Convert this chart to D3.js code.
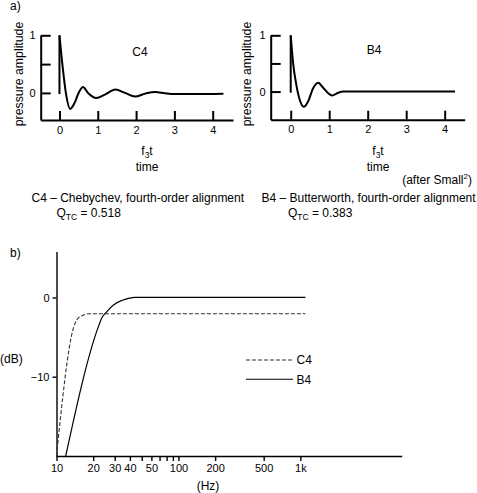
<!DOCTYPE html>
<html><head><meta charset="utf-8">
<script src="https://cdn.jsdelivr.net/npm/d3@7"></script>
<style>
body{margin:0;background:#fff}
svg text{font-family:"Liberation Sans",Arial,Helvetica,sans-serif;fill:#000}
</style>
</head><body>
<svg id="c" width="477" height="493"></svg>
<script>
// ---- data (a) transient responses ----
const timeTicks = [0, 1, 2, 3, 4];
const ampTicks = [0, 0.5, 1];
const ampTickLabels = ["0", "", "1"];
const c4Time = [0, 0.087, 0.174, 0.279, 0.395, 0.5, 0.613, 0.745, 0.963, 1.184, 1.463, 1.71, 1.974, 2.237, 2.5, 2.75, 3.0, 3.5, 4.28];
const c4Amp  = [1, 0.43, -0.03, -0.277, -0.173, 0, 0.104, 0, -0.087, -0.03, 0.058, 0, -0.064, -0.012, 0.017, -0.005, -0.02, -0.02, -0.015];
const b4Time = [0, 0.06, 0.147, 0.234, 0.339, 0.452, 0.582, 0.713, 0.843, 0.974, 1.078, 1.235, 1.37, 2, 3, 4.27];
const b4Amp  = [1, 0.52, 0.115, -0.145, -0.272, -0.174, 0.058, 0.156, 0.069, -0.03, -0.07, -0.02, 0, 0, 0, 0];
const stepLine = [[0, -0.02], [0, 1]];

// ---- data (b) frequency responses ----
const freqTicks = [10, 20, 30, 40, 50, 60, 70, 80, 90, 100, 200, 500, 1000];
const freqTickLabels = ["10", "20", "30", "40", "", "50", "", "", "", "100", "200", "500", "1k"];
const dbTicks = [0, -10];
const dbTickLabels = ["0", "\u221210"];
const c4Freq = [10, 13.8, 14.7, 16.2, 18.9, 100, 1100];
const c4Db   = [-20, -3.8, -2.8, -2.3, -2.05, -2.05, -2.05];
const b4Freq = [11.9, 22.1, 23.5, 25.9, 29.3, 34.3, 39, 44, 100, 1100];
const b4Db   = [-20, -3.65, -2.6, -1.78, -0.94, -0.38, -0.12, 0, 0, 0];

const svg = d3.select("#c");

// labels
svg.append("text").attr("x", 10).attr("y", 10).attr("font-size", 12).text("a)");
svg.append("text").attr("x", 10).attr("y", 257).attr("font-size", 12).text("b)");

function transient(cfg) {
  const x = d3.scaleLinear().domain(cfg.xd).range(cfg.xr);
  const y = d3.scaleLinear().domain(cfg.yd).range(cfg.yr);
  const g = svg.append("g");
  const ax = g.append("g").attr("transform", `translate(0,${cfg.yr[0]})`)
    .call(d3.axisBottom(x).tickValues(timeTicks).tickSize(-9).tickSizeOuter(0).tickPadding(6).tickFormat(d3.format("d")));
  const ay = g.append("g").attr("transform", `translate(${cfg.xr[0]},0)`)
    .call(d3.axisLeft(y).tickValues(ampTicks).tickSize(-10).tickSizeOuter(0).tickPadding(5).tickFormat((d, i) => ampTickLabels[i]));
  [ax, ay].forEach(a => {
    a.selectAll("path,line").attr("stroke", "#000").attr("stroke-width", 2);
    a.selectAll("text").attr("font-size", 11).attr("font-family", null);
  });
  const line = d3.line().x(d => x(d[0])).y(d => y(d[1]));
  g.append("path").attr("d", line(stepLine)).attr("stroke", "#000").attr("stroke-width", 2).attr("fill", "none");
  const pts = cfg.t.map((t, i) => [t, cfg.a[i]]);
  g.append("path").attr("d", line.curve(d3.curveMonotoneX)(pts))
    .attr("stroke", "#000").attr("stroke-width", 2).attr("fill", "none");
  g.append("text").attr("x", cfg.name[0]).attr("y", cfg.name[1]).attr("font-size", 12).attr("text-anchor", "middle").text(cfg.name[2]);
  g.append("text").attr("transform", `translate(${cfg.ytitleX},74) rotate(-90)`).attr("font-size", 12.3)
    .attr("text-anchor", "middle").attr("dy", "0.35em").text("pressure amplitude");
  const ft = g.append("text").attr("x", cfg.ftx).attr("y", 155).attr("font-size", 12).attr("text-anchor", "middle");
  ft.append("tspan").text("f");
  ft.append("tspan").attr("font-size", 8.5).attr("dy", 3).text("3");
  ft.append("tspan").attr("dy", -3).text("t");
  g.append("text").attr("x", cfg.ftx).attr("y", 171).attr("font-size", 12).attr("text-anchor", "middle").text("time");
}

transient({xd: [-0.49, 4.53], xr: [40.7, 233], yd: [-0.47, 1], yr: [120, 35.3], t: c4Time, a: c4Amp,
  name: [140, 56, "C4"], ytitleX: 19, ftx: 147});
transient({xd: [-0.52, 4.52], xr: [270.7, 464.7], yd: [-0.5, 1], yr: [119.7, 35.3], t: b4Time, a: b4Amp,
  name: [374, 54, "B4"], ytitleX: 247, ftx: 378});

// after Small
const af = svg.append("text").attr("x", 472).attr("y", 184).attr("font-size", 12).attr("text-anchor", "end");
af.append("tspan").text("(after Small");
af.append("tspan").attr("font-size", 8).attr("dy", -5).text("2");
af.append("tspan").attr("dy", 5).text(")");

// captions
function caption(x, y, title, qx, q) {
  svg.append("text").attr("x", x).attr("y", y).attr("font-size", 12).text(title);
  const t = svg.append("text").attr("x", qx).attr("y", y + 15).attr("font-size", 12);
  t.append("tspan").text("Q");
  t.append("tspan").attr("font-size", 8.5).attr("dy", 3).text("TC");
  t.append("tspan").attr("dy", -3).text(" = " + q);
}
caption(31.5, 201.5, "C4 \u2013 Chebychev, fourth-order alignment", 56.5, "0.518");
caption(261.5, 201.5, "B4 \u2013 Butterworth, fourth-order alignment", 288, "0.383");

// ---- (b) ----
const fx = d3.scaleLog().domain([10, 6776]).range([56.5, 401.7]);
const fy = d3.scaleLinear().domain([-20, 5.8]).range([456, 251.5]);
const bx = svg.append("g").attr("transform", "translate(0,456)")
  .call(d3.axisBottom(fx).tickValues(freqTicks).tickSize(5).tickSizeOuter(0).tickPadding(3).tickFormat((d, i) => freqTickLabels[i]));
const by = svg.append("g").attr("transform", "translate(56.5,0)")
  .call(d3.axisLeft(fy).tickValues(dbTicks).tickSize(4).tickSizeOuter(0).tickPadding(3).tickFormat((d, i) => dbTickLabels[i]));
[bx, by].forEach(a => {
  a.selectAll("path,line").attr("stroke", "#000").attr("stroke-width", 1.4);
  a.selectAll("text").attr("font-size", 11).attr("font-family", null);
});
svg.append("text").attr("x", 208).attr("y", 490).attr("font-size", 12).attr("text-anchor", "middle").text("(Hz)");
svg.append("text").attr("x", 0).attr("y", 363).attr("font-size", 12).text("(dB)");

const fl = d3.line().x(d => fx(d[0])).y(d => fy(d[1])).curve(d3.curveMonotoneX);
svg.append("path").attr("d", fl(c4Freq.map((f, i) => [f, c4Db[i]])))
  .attr("fill", "none").attr("stroke", "#333").attr("stroke-width", 1.1).attr("stroke-dasharray", "4,2");
svg.append("path").attr("d", fl(b4Freq.map((f, i) => [f, b4Db[i]])))
  .attr("fill", "none").attr("stroke", "#000").attr("stroke-width", 1.2);

// legend
const legend = [["C4", "4,2", "#333"], ["B4", null, "#000"]];
legend.forEach((d, i) => {
  const yy = 360 + i * 19.3;
  svg.append("line").attr("x1", 246).attr("x2", 293).attr("y1", yy).attr("y2", yy)
    .attr("stroke", d[2]).attr("stroke-width", 1.1).attr("stroke-dasharray", d[1]);
  svg.append("text").attr("x", 296.5).attr("y", yy).attr("dy", "0.35em").attr("font-size", 12).text(d[0]);
});
</script>
</body></html>
